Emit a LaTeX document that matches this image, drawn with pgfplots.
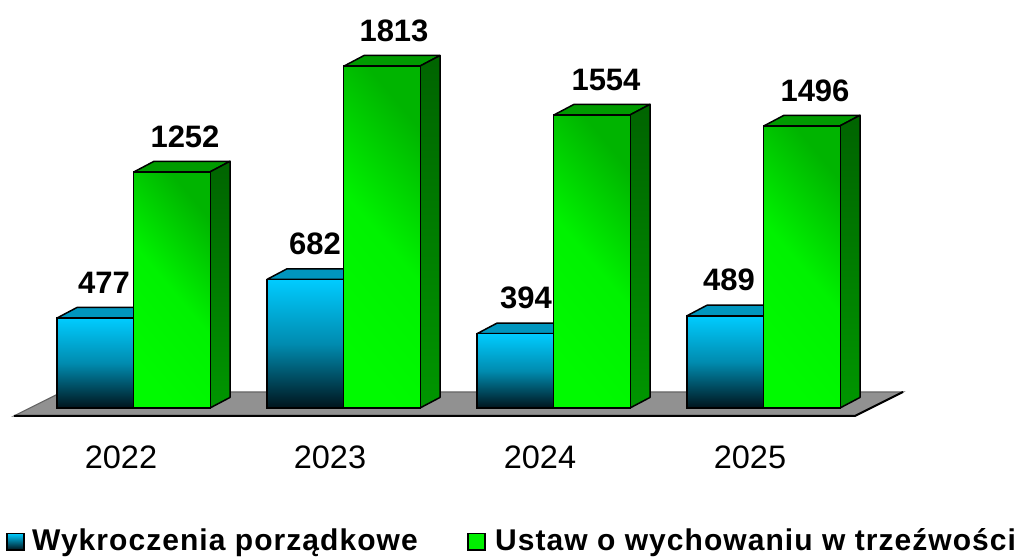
\documentclass[border=0pt]{standalone}
\usepackage{fontspec}
\setmainfont{Liberation Sans}
\newfontfamily\legfont[LetterSpace=3.5]{Liberation Sans}
\usepackage{pgfplots}
\pgfplotsset{compat=1.18}
\definecolor{bTop}{RGB}{0,204,255}
\definecolor{bBot}{RGB}{0,20,28}
\definecolor{bLid}{RGB}{0,150,190}
\definecolor{gLight}{RGB}{0,250,0}
\definecolor{gDark}{RGB}{0,180,0}
\definecolor{gSideT}{RGB}{0,100,0}
\definecolor{gSideB}{RGB}{0,150,0}
\definecolor{gLid}{RGB}{0,155,0}
\definecolor{floorc}{RGB}{145,145,145}
\begin{document}
\begin{tikzpicture}
\begin{axis}[
  scale only axis, width=1021pt, height=557pt,
  xmin=0, xmax=1021, ymin=-790, ymax=2163.3,
  clip=false,
  axis line style={draw=none},
  ytick=\empty,
  xtick={121,330,540,750},
  xticklabels={2022,2023,2024,2025},
  tick style={draw=none},
  xticklabel style={yshift=115pt,font=\fontsize{32.5}{36}\selectfont},
  /pgf/number format/assume math mode=true,
  lid/.style={draw=black,line width=1.5pt,line join=round},
  front/.style={ybar,bar width=77,bar shift=0pt,draw=black,line width=1.5pt},
  bluebar/.style={front,top color=bTop,bottom color=bBot,middle color=bTop!65!bBot},
  greenbar/.style={front,top color=gDark,bottom color=gLight,middle color=gLight!88!gDark,shading angle=-50},
  vals/.style={only marks,mark=none,
    nodes near coords,point meta=y,
    nodes near coords style={anchor=south,yshift=21pt,text=black,
      font=\fontsize{31}{36}\selectfont\bfseries,
      /pgf/number format/.cd,fixed,1000 sep={},precision=0,assume math mode=true}},
]
% floor
\addplot[fill=floorc,draw=black!60,line width=1.2pt] coordinates {(14,-42)(855,-42)(903,85)(62,85)} -- cycle;
\addplot[black,line width=2pt] coordinates {(14,-42)(855,-42)(903,85)};

% blue lids
\addplot[lid,fill=bLid] coordinates {(57,477)(77,533)(154,533)(134,477)} -- cycle;
\addplot[lid,fill=bLid] coordinates {(267,682)(287,738)(364,738)(344,682)} -- cycle;
\addplot[lid,fill=bLid] coordinates {(477,394)(497,450)(574,450)(554,394)} -- cycle;
\addplot[lid,fill=bLid] coordinates {(687,489)(707,545)(784,545)(764,489)} -- cycle;
% blue fronts
\addplot[bluebar] coordinates {(95.5,477)};
\addplot[bluebar] coordinates {(305.5,682)};
\addplot[bluebar] coordinates {(515.5,394)};
\addplot[bluebar] coordinates {(725.5,489)};

% green lids
\addplot[lid,fill=gLid] coordinates {(134,1252)(154,1308)(230,1308)(210,1252)} -- cycle;
\addplot[lid,fill=gLid] coordinates {(344,1813)(364,1869)(440,1869)(420,1813)} -- cycle;
\addplot[lid,fill=gLid] coordinates {(554,1554)(574,1610)(650,1610)(630,1554)} -- cycle;
\addplot[lid,fill=gLid] coordinates {(764,1496)(784,1552)(860,1552)(840,1496)} -- cycle;
% green sides
\addplot[lid,top color=gSideT,bottom color=gSideB] coordinates {(210,1252)(230,1308)(230,56)(210,0)} -- cycle;
\addplot[lid,top color=gSideT,bottom color=gSideB] coordinates {(420,1813)(440,1869)(440,56)(420,0)} -- cycle;
\addplot[lid,top color=gSideT,bottom color=gSideB] coordinates {(630,1554)(650,1610)(650,56)(630,0)} -- cycle;
\addplot[lid,top color=gSideT,bottom color=gSideB] coordinates {(840,1496)(860,1552)(860,56)(840,0)} -- cycle;
% green fronts
\addplot[greenbar] coordinates {(172,1252)};
\addplot[greenbar] coordinates {(382,1813)};
\addplot[greenbar] coordinates {(592,1554)};
\addplot[greenbar] coordinates {(802,1496)};

% value labels
\addplot[vals] coordinates {(104,477)(315,682)(526,394)(729,489)};
\addplot[vals] coordinates {(185,1252)(394,1813)(606,1554)(815,1496)};

% legend
\draw[black,line width=1.5pt,top color=bTop,bottom color=bBot] (axis cs:7,-665) rectangle (axis cs:24,-752);
\node[anchor=base west,inner sep=0pt,font=\fontsize{30}{34}\selectfont\legfont\bfseries] at (axis cs:32,-753) {Wykroczenia porządkowe};
\draw[black,line width=1.5pt,fill=gLight!85!gDark] (axis cs:468,-665) rectangle (axis cs:485,-752);
\node[anchor=base west,inner sep=0pt,font=\fontsize{30}{34}\selectfont\legfont\bfseries] at (axis cs:495,-753) {Ustaw o wychowaniu w trzeźwości};
\end{axis}
\end{tikzpicture}
\end{document}
